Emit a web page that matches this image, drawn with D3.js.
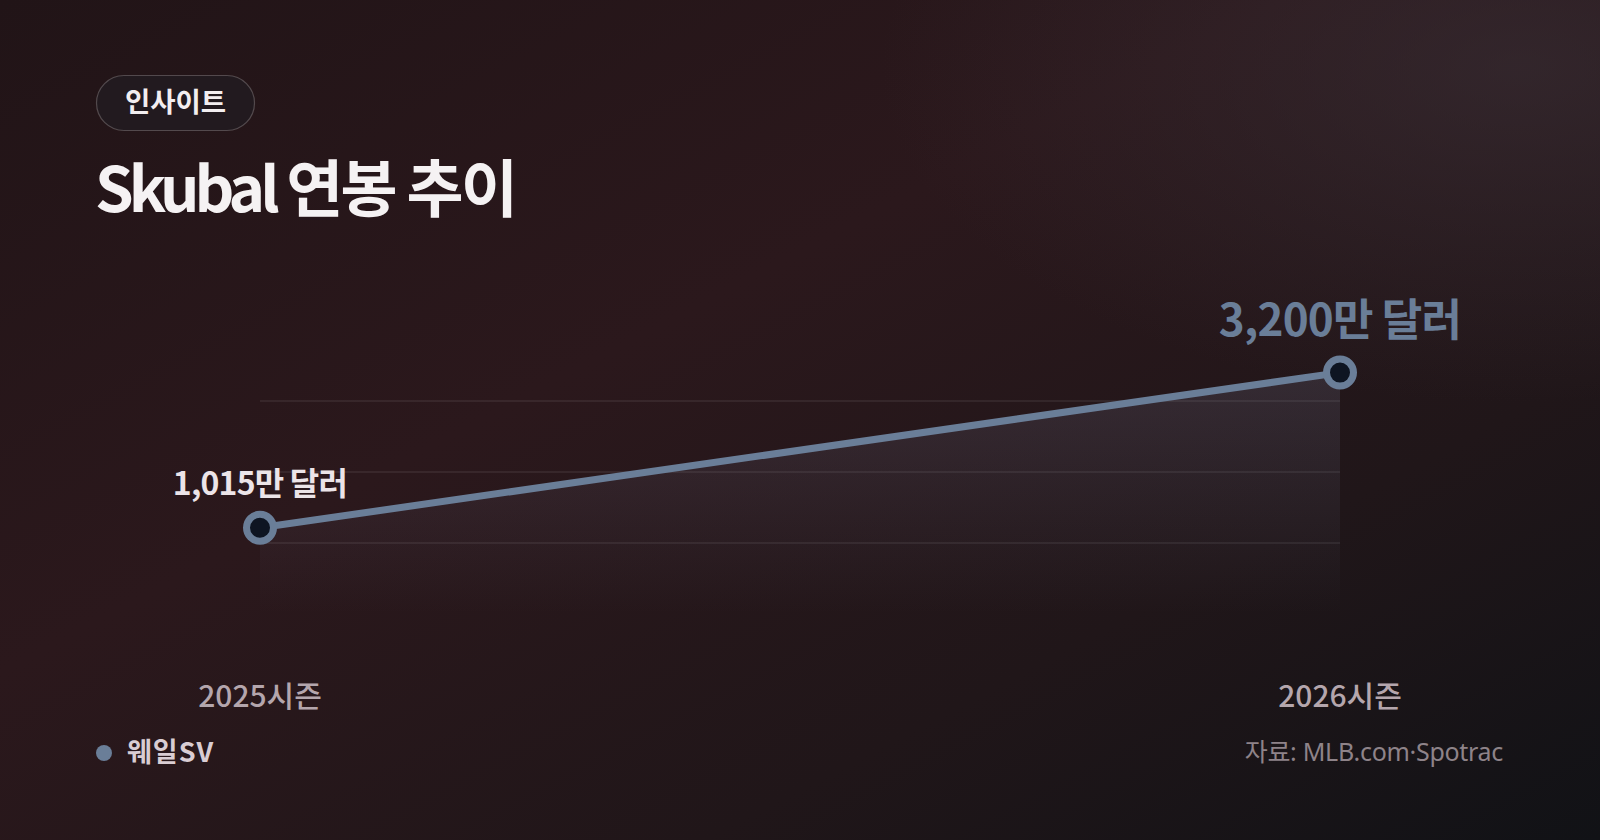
<!DOCTYPE html>
<html>
<head>
<meta charset="utf-8">
<script src="https://cdn.jsdelivr.net/npm/d3@7"></script>
<style>
	html, body { margin: 0; padding: 0; background: #1c1418; }
	svg { display: block; font-family: "Noto Sans CJK KR", "Noto Sans", sans-serif; }
</style>
</head>
<body>
<svg class="chart"></svg>
<script>
// data
var seasons = ["2025시즌", "2026시즌"];
var salaries = [1015, 3200];              // 만 달러
var salaryLabels = ["1,015만 달러", "3,200만 달러"];
var seriesName = "웨일SV";
var sourceText = "자료: MLB.com·Spotrac";
var badgeText = "인사이트";
var titleText = "Skubal 연봉 추이";

var svgWidth = 1600,
	svgHeight = 840;

var chart = d3.select( ".chart" )
	.attr( "width", svgWidth )
	.attr( "height", svgHeight );

var defs = chart.append( "defs" );

// background gradients
var bg = defs.append( "linearGradient" ).attr( "id", "bg" )
	.attr( "x1", 0 ).attr( "y1", 0 ).attr( "x2", 1 ).attr( "y2", 1 );
bg.append( "stop" ).attr( "offset", "0%" ).attr( "stop-color", "#211417" );
bg.append( "stop" ).attr( "offset", "40%" ).attr( "stop-color", "#2b181c" );
bg.append( "stop" ).attr( "offset", "72%" ).attr( "stop-color", "#201619" );
bg.append( "stop" ).attr( "offset", "100%" ).attr( "stop-color", "#111216" );

var glow = defs.append( "radialGradient" ).attr( "id", "glow" )
	.attr( "cx", 0.95 ).attr( "cy", 0.08 ).attr( "r", 0.4 );
glow.append( "stop" ).attr( "offset", "0%" ).attr( "stop-color", "#3a2f36" ).attr( "stop-opacity", 0.6 );
glow.append( "stop" ).attr( "offset", "100%" ).attr( "stop-color", "#3a2f36" ).attr( "stop-opacity", 0 );

var areaGrad = defs.append( "linearGradient" ).attr( "id", "areaGrad" )
	.attr( "x1", 0 ).attr( "y1", 0 ).attr( "x2", 0 ).attr( "y2", 1 );
areaGrad.append( "stop" ).attr( "offset", "0%" ).attr( "stop-color", "#8a8fb0" ).attr( "stop-opacity", 0.17 );
areaGrad.append( "stop" ).attr( "offset", "100%" ).attr( "stop-color", "#8a8fb0" ).attr( "stop-opacity", 0 );

chart.append( "rect" ).attr( "width", svgWidth ).attr( "height", svgHeight ).attr( "fill", "url(#bg)" );
chart.append( "rect" ).attr( "width", svgWidth ).attr( "height", svgHeight ).attr( "fill", "url(#glow)" );

// header
chart.append( "rect" )
	.attr( "x", 96.5 ).attr( "y", 75.5 )
	.attr( "width", 158 ).attr( "height", 55 )
	.attr( "rx", 27.5 )
	.attr( "fill", "#221a1f" )
	.attr( "stroke", "rgba(255,255,255,0.22)" )
	.attr( "stroke-width", 1.2 );

chart.append( "text" )
	.attr( "x", 175.5 ).attr( "y", 112 )
	.attr( "text-anchor", "middle" )
	.attr( "font-size", 27.5 ).attr( "font-weight", 700 )
	.attr( "fill", "#f3eef0" )
	.text( badgeText );

// title: latin part set tighter than the hangul part
var titleParts = titleText.split( " " );
var title = chart.append( "text" )
	.attr( "x", 95 ).attr( "y", 212 )
	.attr( "font-size", 62 ).attr( "font-weight", 700 )
	.attr( "fill", "#f5f2f3" );
title.selectAll( "tspan" )
	.data( titleParts )
	.enter().append( "tspan" )
	.attr( "letter-spacing", function(d, i) { return i === 0 ? -5 : -2.6; } )
	.text( function(d, i) { return ( i === 0 ? "" : " " ) + d; } );

// scales
var plotTop = 330, plotBottom = 614;

var x = d3.scalePoint()
	.domain( seasons )
	.range( [260, 1340] );

var y = d3.scaleLinear()
	.domain( [-200, 3800] )
	.range( [plotBottom, plotTop] );

var points = seasons.map( function(s, i) {
	return { season : s, value : salaries[i], label : salaryLabels[i] };
} );

// grid lines at quarter steps of the domain
var yd = y.domain();
var gridValues = [1, 2, 3].map( function(k) { return yd[0] + (yd[1] - yd[0]) * k / 4; } );

chart.append( "g" ).selectAll( "line" )
	.data( gridValues )
	.enter().append( "line" )
	.attr( "x1", x( seasons[0] ) )
	.attr( "x2", x( seasons[seasons.length - 1] ) )
	.attr( "y1", function(d) { return y(d); } )
	.attr( "y2", function(d) { return y(d); } )
	.attr( "stroke", "rgba(255,255,255,0.09)" )
	.attr( "stroke-width", 1.5 );

// area + line
var area = d3.area()
	.x( function(d) { return x( d.season ); } )
	.y0( y( yd[0] ) )
	.y1( function(d) { return y( d.value ); } );

chart.append( "path" )
	.datum( points )
	.attr( "d", area )
	.attr( "fill", "url(#areaGrad)" );

var line = d3.line()
	.x( function(d) { return x( d.season ); } )
	.y( function(d) { return y( d.value ); } );

chart.append( "path" )
	.datum( points )
	.attr( "d", line )
	.attr( "fill", "none" )
	.attr( "stroke", "#6a7e98" )
	.attr( "stroke-width", 7 )
	.attr( "stroke-linecap", "round" );

chart.append( "g" ).selectAll( "circle" )
	.data( points )
	.enter().append( "circle" )
	.attr( "cx", function(d) { return x( d.season ); } )
	.attr( "cy", function(d) { return y( d.value ); } )
	.attr( "r", 13.5 )
	.attr( "fill", "#0e1522" )
	.attr( "stroke", "#6a7e98" )
	.attr( "stroke-width", 7 );

// value labels
chart.append( "g" ).selectAll( "text" )
	.data( points )
	.enter().append( "text" )
	.attr( "x", function(d) { return x( d.season ); } )
	.attr( "y", function(d, i) { return y( d.value ) - ( i === points.length - 1 ? 37 : 33 ); } )
	.attr( "text-anchor", "middle" )
	.attr( "font-weight", 700 )
	.attr( "font-size", function(d, i) { return i === points.length - 1 ? 44 : 32; } )
	.attr( "letter-spacing", -0.8 )
	.attr( "fill", function(d, i) { return i === points.length - 1 ? "#6a7e98" : "#ece4e8"; } )
	.text( function(d) { return d.label; } );

// x labels
chart.append( "g" ).selectAll( "text" )
	.data( seasons )
	.enter().append( "text" )
	.attr( "x", function(d) { return x(d); } )
	.attr( "y", 707 )
	.attr( "text-anchor", "middle" )
	.attr( "font-size", 30 ).attr( "font-weight", 500 )
	.attr( "fill", "#b4a6ad" )
	.text( function(d) { return d; } );

// legend
chart.append( "circle" )
	.attr( "cx", 104 ).attr( "cy", 753 ).attr( "r", 8 )
	.attr( "fill", "#6a7e98" );

chart.append( "text" )
	.attr( "x", 127 ).attr( "y", 762 )
	.attr( "font-size", 27 ).attr( "font-weight", 700 )
	.attr( "letter-spacing", 1 )
	.attr( "fill", "#d9cdd3" )
	.text( seriesName );

// source
chart.append( "text" )
	.attr( "x", 1503 ).attr( "y", 761 )
	.attr( "text-anchor", "end" )
	.attr( "font-family", "'Noto Sans', 'Noto Sans CJK KR', sans-serif" )
	.attr( "font-size", 25 ).attr( "font-weight", 400 )
	.attr( "letter-spacing", -0.3 )
	.attr( "fill", "#8e8389" )
	.text( sourceText );
</script>
</body>
</html>
